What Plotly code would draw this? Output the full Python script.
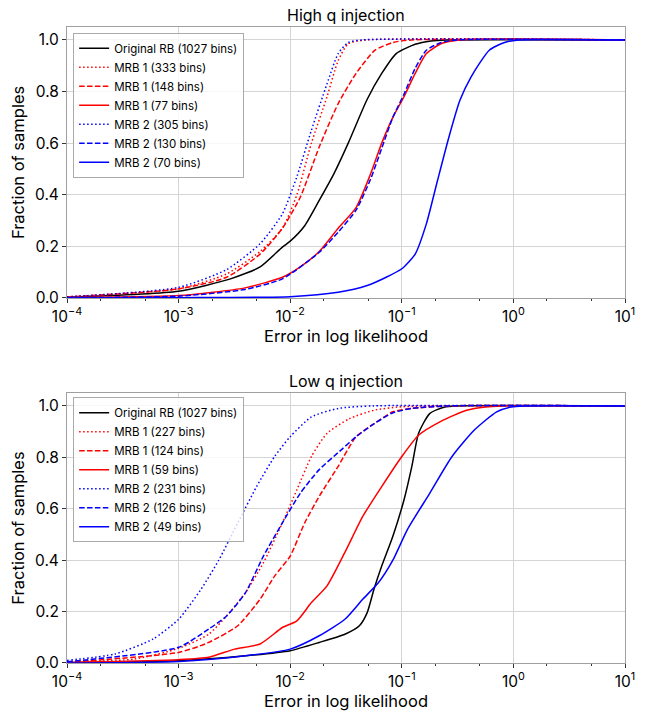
import numpy as np
import plotly.graph_objects as go

# ---------------- data (log10 of error, CDF fraction) ----------------
# High q injection
hq_orig_x = [-4, -3, -2.535, -2.27, -2.07, -2.0, -1.87, -1.74, -1.61, -1.48, -1.31, -1.18, -1.05, -0.88, -0.74, -0.6, 1]
hq_orig_y = [0.003, 0.026, 0.074, 0.12, 0.197, 0.22, 0.28, 0.378, 0.48, 0.6, 0.77, 0.87, 0.947, 0.983, 0.996, 1.0, 1.0]

hq_m1a_x = [-4, -3, -2.57, -2.27, -2.07, -1.94, -1.81, -1.67, -1.57, -1.48, -1.31, 1]
hq_m1a_y = [0.004, 0.035, 0.093, 0.18, 0.27, 0.40, 0.60, 0.78, 0.92, 0.985, 1.0, 1.0]

hq_m1b_x = [-4, -3, -2.57, -2.27, -2.07, -1.91, -1.74, -1.57, -1.41, -1.24, -1.08, -0.91, 1]
hq_m1b_y = [0.004, 0.035, 0.08, 0.17, 0.27, 0.39, 0.585, 0.753, 0.87, 0.96, 0.99, 1.0, 1.0]

hq_m1c_x = [-4, -3, -2.405, -2.07, -1.91, -1.74, -1.57, -1.41, -1.28, -1.18, -1.08, -0.98, -0.88, -0.78, -0.645, -0.48, 1]
hq_m1c_y = [0.002, 0.009, 0.039, 0.08, 0.12, 0.18, 0.27, 0.35, 0.48, 0.60, 0.70, 0.78, 0.87, 0.947, 0.986, 1.0, 1.0]

hq_m2a_x = [-4, -3, -2.57, -2.27, -2.07, -1.94, -1.81, -1.67, -1.57, -1.48, -1.35, 1]
hq_m2a_y = [0.004, 0.041, 0.11, 0.21, 0.326, 0.47, 0.65, 0.83, 0.947, 0.99, 1.0, 1.0]

hq_m2b_x = [-4, -3, -2.405, -2.07, -1.74, -1.57, -1.41, -1.28, -1.18, -1.08, -0.98, -0.88, -0.78, -0.645, -0.5, 1]
hq_m2b_y = [0.001, 0.007, 0.033, 0.074, 0.177, 0.255, 0.34, 0.46, 0.58, 0.70, 0.79, 0.89, 0.96, 0.99, 1.0, 1.0]

hq_m2c_x = [-4, -3, -2.0, -1.57, -1.31, -1.14, -1.0, -0.88, -0.78, -0.68, -0.58, -0.48, -0.38, -0.216, -0.08, 0.05, 1]
hq_m2c_y = [0.0, 0.001, 0.005, 0.022, 0.048, 0.08, 0.113, 0.17, 0.287, 0.455, 0.62, 0.765, 0.856, 0.96, 0.99, 1.0, 1.0]

# Low q injection
lq_orig_x = [-4, -3, -2.4, -2.0, -1.74, -1.51, -1.38, -1.31, -1.25, -1.18, -1.08, -0.98, -0.91, -0.85, -0.75, -0.615, -0.5, 1]
lq_orig_y = [0.002, 0.009, 0.028, 0.048, 0.08, 0.112, 0.145, 0.196, 0.286, 0.377, 0.493, 0.635, 0.765, 0.893, 0.97, 0.996, 1.0, 1.0]

lq_m1a_x = [-4, -3.4, -3.0, -2.73, -2.57, -2.4, -2.24, -2.07, -1.94, -1.81, -1.67, -1.47, -1.25, -1.02, -0.75, 1]
lq_m1a_y = [0.005, 0.015, 0.057, 0.112, 0.183, 0.274, 0.39, 0.545, 0.674, 0.803, 0.893, 0.95, 0.983, 0.996, 1.0, 1.0]

lq_m1b_x = [-4, -3, -2.73, -2.47, -2.27, -2.14, -2.0, -1.87, -1.74, -1.57, -1.41, -1.25, -1.08, -0.91, -0.58, 1]
lq_m1b_y = [0.003, 0.041, 0.08, 0.145, 0.248, 0.338, 0.416, 0.545, 0.648, 0.765, 0.88, 0.93, 0.977, 0.99, 1.0, 1.0]

lq_m1c_x = [-4, -3, -2.73, -2.5, -2.27, -2.07, -1.94, -1.81, -1.67, -1.51, -1.35, -1.18, -1.0, -0.85, -0.65, -0.42, -0.25, -0.1, 1]
lq_m1c_y = [0.002, 0.013, 0.022, 0.054, 0.074, 0.138, 0.164, 0.235, 0.30, 0.43, 0.57, 0.686, 0.803, 0.886, 0.94, 0.983, 0.996, 1.0, 1.0]

lq_m2a_x = [-4, -3.57, -3.23, -3.0, -2.8, -2.64, -2.47, -2.3, -2.14, -2.0, -1.81, -1.57, -1.25, 1]
lq_m2a_y = [0.01, 0.035, 0.093, 0.17, 0.286, 0.40, 0.545, 0.687, 0.803, 0.88, 0.957, 0.99, 1.0, 1.0]

lq_m2b_x = [-4, -3, -2.73, -2.57, -2.4, -2.24, -2.07, -1.91, -1.74, -1.54, -1.41, -1.25, -1.08, -0.91, -0.58, 1]
lq_m2b_y = [0.005, 0.061, 0.132, 0.183, 0.274, 0.416, 0.545, 0.66, 0.752, 0.83, 0.88, 0.93, 0.973, 0.99, 1.0, 1.0]

lq_m2c_x = [-4, -3, -2.4, -2.0, -1.74, -1.51, -1.35, -1.21, -1.08, -0.95, -0.75, -0.55, -0.35, -0.15, -0.02, 0.1, 1]
lq_m2c_y = [0.0, 0.006, 0.028, 0.054, 0.106, 0.17, 0.248, 0.312, 0.40, 0.519, 0.66, 0.803, 0.906, 0.977, 0.996, 1.0, 1.0]

hq_names = ["Original RB (1027 bins)", "MRB 1 (333 bins)", "MRB 1 (148 bins)", "MRB 1 (77 bins)",
            "MRB 2 (305 bins)", "MRB 2 (130 bins)", "MRB 2 (70 bins)"]
lq_names = ["Original RB (1027 bins)", "MRB 1 (227 bins)", "MRB 1 (124 bins)", "MRB 1 (59 bins)",
            "MRB 2 (231 bins)", "MRB 2 (126 bins)", "MRB 2 (49 bins)"]

x_tickvals = [1e-4, 1e-3, 1e-2, 1e-1, 1e0, 1e1]
x_ticktext = ["10<sup>−4</sup>", "10<sup>−3</sup>", "10<sup>−2</sup>", "10<sup>−1</sup>", "10<sup>0</sup>", "10<sup>1</sup>"]
y_tickvals = [0.0, 0.2, 0.4, 0.6, 0.8, 1.0]

# ---------------- figure ----------------
colors = ["black", "red", "red", "red", "blue", "blue", "blue"]
dashes = ["solid", "1.5px,2.5px", "5.5px,2.4px", "solid", "1.5px,2.5px", "5.5px,2.4px", "solid"]

hq = [(hq_orig_x, hq_orig_y), (hq_m1a_x, hq_m1a_y), (hq_m1b_x, hq_m1b_y), (hq_m1c_x, hq_m1c_y),
      (hq_m2a_x, hq_m2a_y), (hq_m2b_x, hq_m2b_y), (hq_m2c_x, hq_m2c_y)]
lq = [(lq_orig_x, lq_orig_y), (lq_m1a_x, lq_m1a_y), (lq_m1b_x, lq_m1b_y), (lq_m1c_x, lq_m1c_y),
      (lq_m2a_x, lq_m2a_y), (lq_m2b_x, lq_m2b_y), (lq_m2c_x, lq_m2c_y)]

fig = go.Figure()
for i, (xs, ys) in enumerate(hq):
    fig.add_trace(go.Scatter(x=10 ** np.array(xs, dtype=float), y=ys, mode="lines", name=hq_names[i],
                             line=dict(color=colors[i], dash=dashes[i], width=1.5, shape="spline", smoothing=0.6),
                             xaxis="x", yaxis="y", legend="legend"))
for i, (xs, ys) in enumerate(lq):
    fig.add_trace(go.Scatter(x=10 ** np.array(xs, dtype=float), y=ys, mode="lines", name=lq_names[i],
                             line=dict(color=colors[i], dash=dashes[i], width=1.5, shape="spline", smoothing=0.6),
                             xaxis="x2", yaxis="y2", legend="legend2"))

font_family = "Inter, Liberation Sans, Arial, sans-serif"
axis_common = dict(showline=True, linecolor="#a0a0a0", linewidth=1, mirror=True,
                   showgrid=True, gridcolor="#d4d4d4", gridwidth=1,
                   ticks="outside", ticklen=4, tickcolor="#333333", automargin=False,
                   tickfont=dict(size=15.5, color="black"), zeroline=False)

xaxis_common = dict(axis_common, type="log", range=[-4, 1], tickvals=x_tickvals, ticktext=x_ticktext,
                    minor=dict(ticks="outside", ticklen=2, tickcolor="#333333", showgrid=False),
                    title=dict(text="Error in log likelihood", font=dict(size=16.5, color="black"), standoff=5))
yaxis_common = dict(axis_common, range=[0, 1.05], tickvals=y_tickvals, tickformat=".1f",
                    title=dict(text="Fraction of samples", font=dict(size=16.5, color="black"), standoff=6))

legend_common = dict(x=0.011, xanchor="left", bgcolor="rgba(255,255,255,0.8)", bordercolor="#aaaaaa",
                     borderwidth=1, font=dict(size=11.5, color="black"), tracegroupgap=0,
                     itemwidth=30, yanchor="top")

# the page body keeps the browser's 8px default margin, so the figure is sized/offset for it
fig.update_layout(
    width=639, height=704,
    margin=dict(l=59, r=22, t=19, b=49),
    plot_bgcolor="white", paper_bgcolor="white",
    font=dict(family=font_family, color="black"),
    xaxis=dict(xaxis_common, domain=[0, 1], anchor="y"),
    yaxis=dict(yaxis_common, domain=[0.574, 1.0], anchor="x"),
    xaxis2=dict(xaxis_common, domain=[0, 1], anchor="y2"),
    yaxis2=dict(yaxis_common, domain=[0.0, 0.4245], anchor="x2"),
    legend=dict(legend_common, y=0.991),
    legend2=dict(legend_common, y=0.418),
    showlegend=True,
    annotations=[
        dict(text="High q injection", x=0.5, y=1.0, xref="paper", yref="paper", xanchor="center",
             yanchor="bottom", yshift=0, showarrow=False, font=dict(size=16, color="black")),
        dict(text="Low q injection", x=0.5, y=0.4245, xref="paper", yref="paper", xanchor="center",
             yanchor="bottom", yshift=0, showarrow=False, font=dict(size=16, color="black")),
    ],
)

fig.write_html("out.html")
